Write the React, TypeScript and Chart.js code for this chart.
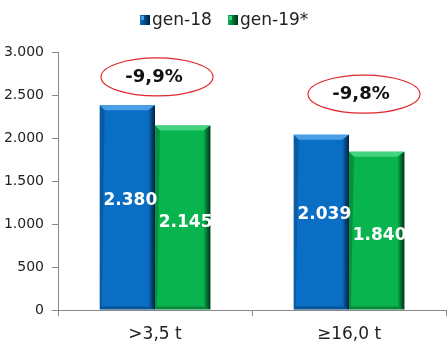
import React, { useEffect, useRef } from "react";
import { Chart, registerables } from "chart.js";

Chart.register(...registerables);

const categories = [">3,5 t", "≥16,0 t"];
const seriesNames = ["gen-18", "gen-19*"];
const gen18 = [2380, 2039];
const gen19 = [2145, 1840];
const changeLabels = ["-9,9%", "-9,8%"];
const changeLevels = [2710, 2510];
const yMax = 3000;
const yStep = 500;

const COLORS = ["#0a6fc4", "#08b44e"];
const DARK = ["#02203f", "#02301a"];
const LIGHT = ["#4aa0e6", "#44d47f"];
const FONT = "'DejaVu Sans', Verdana, sans-serif";

const fmt = (v: number) => {
  const s = Math.round(v).toString();
  return s.replace(/\B(?=(\d{3})+(?!\d))/g, ".");
};

const bevelPlugin = {
  id: "bevel",
  afterDatasetsDraw(chart: any) {
    const ctx = chart.ctx;
    chart.data.datasets.forEach((_: any, di: number) => {
      const meta = chart.getDatasetMeta(di);
      meta.data.forEach((bar: any) => {
        const { x, y, base, width } = bar.getProps(["x", "y", "base", "width"], true);
        const l = x - width / 2;
        const r = x + width / 2;
        const b = 5;
        ctx.save();
        ctx.fillStyle = LIGHT[di];
        ctx.beginPath();
        ctx.moveTo(l, y);
        ctx.lineTo(r, y);
        ctx.lineTo(r - b, y + b);
        ctx.lineTo(l + b, y + b);
        ctx.closePath();
        ctx.fill();
        const g = ctx.createLinearGradient(r - 7, 0, r, 0);
        g.addColorStop(0, COLORS[di]);
        g.addColorStop(1, DARK[di]);
        ctx.fillStyle = g;
        ctx.beginPath();
        ctx.moveTo(r, y);
        ctx.lineTo(r, base);
        ctx.lineTo(r - b - 2, base - 3);
        ctx.lineTo(r - b - 2, y + b);
        ctx.closePath();
        ctx.fill();
        ctx.fillStyle = "rgba(0,0,0,0.25)";
        ctx.beginPath();
        ctx.moveTo(l, base);
        ctx.lineTo(r, base);
        ctx.lineTo(r - b - 2, base - 3);
        ctx.lineTo(l + 2, base - 3);
        ctx.closePath();
        ctx.fill();
        ctx.fillStyle = "rgba(0,0,0,0.18)";
        ctx.beginPath();
        ctx.moveTo(l, y);
        ctx.lineTo(l + b, y + b);
        ctx.lineTo(l + 2, base - 3);
        ctx.lineTo(l, base);
        ctx.closePath();
        ctx.fill();
        ctx.restore();
      });
    });
    // value labels
    ctx.save();
    ctx.font = `bold 17px ${FONT}`;
    ctx.fillStyle = "#ffffff";
    ctx.textAlign = "center";
    ctx.textBaseline = "middle";
    const labelShift = [-7, 5];
    chart.data.datasets.forEach((ds: any, di: number) => {
      const meta = chart.getDatasetMeta(di);
      meta.data.forEach((bar: any, i: number) => {
        const { x, y, base } = bar.getProps(["x", "y", "base"], true);
        ctx.fillText(fmt(ds.data[i]), x + 3, (y + base) / 2 + labelShift[di]);
      });
    });
    ctx.restore();
    // change ellipses
    const xs = chart.scales.x;
    const ys = chart.scales.y;
    const offsets = [2, 15];
    ctx.save();
    changeLabels.forEach((lab, i) => {
      const cx = xs.getPixelForValue(i) + offsets[i];
      const cy = ys.getPixelForValue(changeLevels[i]);
      ctx.beginPath();
      ctx.ellipse(cx, cy, 56, 19, 0, 0, Math.PI * 2);
      ctx.strokeStyle = "#e0282c";
      ctx.lineWidth = 1.2;
      ctx.stroke();
      ctx.font = `bold 18px ${FONT}`;
      ctx.fillStyle = "#111";
      ctx.textAlign = "center";
      ctx.textBaseline = "middle";
      ctx.fillText(lab, cx - 3, cy);
    });
    ctx.restore();
    // legend
    ctx.save();
    ctx.font = `17px ${FONT}`;
    ctx.textBaseline = "middle";
    ctx.textAlign = "left";
    const legX = [140, 228];
    seriesNames.forEach((n, i) => {
      const lx = legX[i];
      const ly = 20;
      const lg = ctx.createLinearGradient(lx, 0, lx + 10, 0);
      lg.addColorStop(0, COLORS[i]);
      lg.addColorStop(1, DARK[i]);
      ctx.fillStyle = lg;
      ctx.fillRect(lx, ly - 5, 10, 10);
      ctx.fillStyle = LIGHT[i];
      ctx.fillRect(lx + 1, ly - 4, 3, 4);
      ctx.fillStyle = "#222";
      ctx.fillText(n, lx + 12, ly + 1);
    });
    ctx.restore();
  },
};

export default function App() {
  const ref = useRef<HTMLCanvasElement>(null);
  useEffect(() => {
    if (!ref.current) return;
    const chart = new Chart(ref.current, {
      type: "bar",
      data: {
        labels: categories,
        datasets: [
          { label: seriesNames[0], data: gen18, backgroundColor: COLORS[0], borderWidth: 0 },
          { label: seriesNames[1], data: gen19, backgroundColor: COLORS[1], borderWidth: 0 },
        ],
      },
      options: {
        animation: false,
        responsive: false,
        maintainAspectRatio: false,
        layout: { padding: { top: 52, right: 2, left: 0, bottom: 0 } },
        plugins: { legend: { display: false }, tooltip: { enabled: false } },
        datasets: { bar: { barPercentage: 1, categoryPercentage: 0.57 } },
        scales: {
          x: {
            grid: { display: true, drawOnChartArea: false, drawTicks: true, tickLength: 6, color: "#888", offset: true },
            border: { display: true, color: "#888" },
            ticks: { color: "#222", font: { family: FONT, size: 17 }, padding: 8 },
            afterFit: (s: any) => { s.height = 38; },
          },
          y: {
            min: 0,
            max: yMax,
            grid: { display: true, drawOnChartArea: false, drawTicks: true, tickLength: 6, color: "#888" },
            border: { display: true, color: "#888" },
            ticks: {
              stepSize: yStep,
              color: "#222",
              font: { family: FONT, size: 14 },
              padding: 8,
              callback: (v: any) => fmt(Number(v)),
            },
            afterFit: (s: any) => { s.width = 58; },
          },
        },
      },
      plugins: [bevelPlugin],
    });
    return () => chart.destroy();
  }, []);
  return (
    <div style={{ position: "fixed", left: 0, top: 0, width: 448, height: 348, background: "#fff" }}>
      <canvas ref={ref} width={448} height={348} style={{ width: 448, height: 348 }} />
    </div>
  );
}
